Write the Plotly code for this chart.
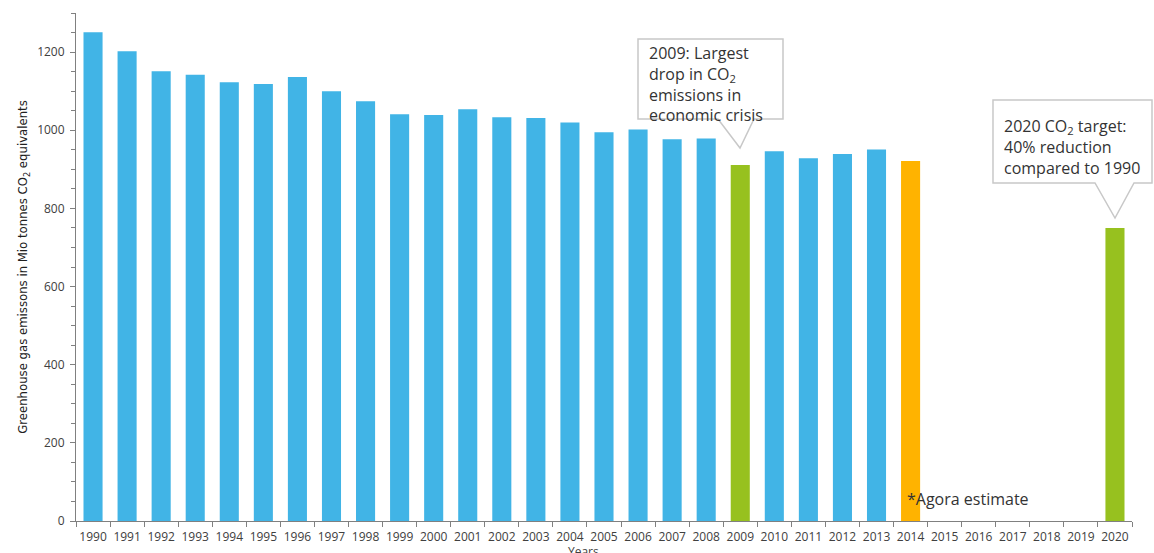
import plotly.graph_objects as go

years = [str(y) for y in range(1990, 2021)]
values = [1251, 1202, 1151, 1142, 1123, 1118, 1136, 1100, 1074, 1041, 1039, 1054, 1033, 1031, 1020,
          995, 1002, 977, 979, 911, 946, 928, 939, 951, 921, None, None, None, None, None, 750]
BLUE, GREEN, ORANGE = "#41B4E6", "#97C11F", "#FFB300"
colors = []
for y in years:
    if y in ("2009", "2020"):
        colors.append(GREEN)
    elif y == "2014":
        colors.append(ORANGE)
    else:
        colors.append(BLUE)

W, H = 1154, 553
L, R, T, B = 76, 22, 13, 32
pw, ph = W - L - R, H - T - B


def px(x):
    return (x - L) / pw


def py(y):
    return (H - B - y) / ph


fig = go.Figure(go.Bar(x=years, y=values, marker=dict(color=colors, line=dict(width=0)), width=0.56))

def callout(left, top, right, bottom, b1, tip, b2):
    pts = [(left, top), (right, top), (right, bottom), (b2, bottom), tip, (b1, bottom), (left, bottom)]
    d = "M " + " L ".join(f"{px(a):.5f},{py(b):.5f}" for a, b in pts) + " Z"
    return dict(type="path", xref="paper", yref="paper", path=d,
                line=dict(color="#C8C8C8", width=1.5), fillcolor="white", layer="above")

fig.update_layout(
    width=W, height=H, margin=dict(l=L, r=R, t=T, b=B, autoexpand=False),
    plot_bgcolor="white", paper_bgcolor="white", showlegend=False,
    font=dict(family="Open Sans", color="#404040"),
    xaxis=dict(type="category", range=[-0.5, 30.5], showline=True, linecolor="#808080", linewidth=1,
               ticks="outside", tickson="boundaries", ticklen=5, tickcolor="#808080",
               tickangle=0, automargin=False, ticklabelstandoff=5,
               tickfont=dict(size=12, color="#404040"), showgrid=False),
    yaxis=dict(range=[0, 1300], showline=True, linecolor="#808080", linewidth=1, dtick=200,
               ticks="outside", ticklen=5, tickcolor="#808080", showgrid=False, zeroline=False,
               automargin=False, ticklabelstandoff=3,
               tickfont=dict(size=12, color="#404040"),
               minor=dict(dtick=50, ticks="outside", ticklen=4, tickcolor="#808080", showgrid=False),
               title=dict(text="Greenhouse gas emissons in Mio tonnes CO<sub>2</sub> equivalents",
                          font=dict(size=13, family="DejaVu Sans Condensed, Liberation Sans Narrow, Liberation Sans",
                                    color="#202020"), standoff=6)),
    shapes=[
        callout(638, 39, 783, 119, 718, (740, 148), 754),
        callout(993, 100, 1152, 183, 1095, (1115, 218), 1134),
    ],
    annotations=[
        dict(xref="paper", yref="paper", x=px(647), y=py(40), xanchor="left", yanchor="top",
             text="2009: Largest<br>drop in CO<sub>2</sub><br>emissions in<br>economic crisis",
             showarrow=False, align="left", font=dict(size=16, color="#333333")),
        dict(xref="paper", yref="paper", x=px(1002), y=py(113), xanchor="left", yanchor="top",
             text="2020 CO<sub>2</sub> target:<br>40% reduction<br>compared to 1990",
             showarrow=False, align="left", font=dict(size=16, color="#333333")),
        dict(xref="paper", yref="paper", x=px(905), y=py(499), xanchor="left", yanchor="middle",
             text="*Agora estimate", showarrow=False, font=dict(size=16, color="#333333")),
        dict(xref="paper", yref="paper", x=px(583), y=py(551), xanchor="center", yanchor="middle",
             text="Years", showarrow=False, font=dict(size=12, color="#404040")),
    ],
)

fig.write_html("out.html")
